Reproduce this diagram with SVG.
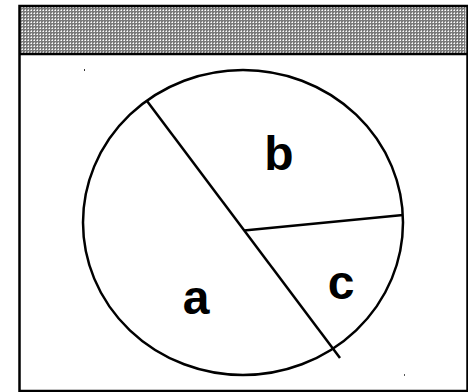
<svg xmlns="http://www.w3.org/2000/svg" width="468" height="392" viewBox="0 0 468 392">
  <defs>
    <pattern id="dither" x="0" y="0" width="3" height="3" patternUnits="userSpaceOnUse">
      <rect width="3" height="3" fill="#7a7a7a"/>
      <rect x="1" y="1" width="1" height="1" fill="#ffffff"/>
      <rect x="0" y="1" width="1" height="1" fill="#c8c8c8"/>
      <rect x="1" y="0" width="1" height="1" fill="#c8c8c8"/>
    </pattern>
    <style>
      .ln { stroke: #000; stroke-width: 2.5; fill: none; }
      .lbl { font-family: "Liberation Sans", Arial, sans-serif; font-weight: bold; font-size: 48px; fill: #000; text-anchor: middle; }
    </style>
  </defs>
  <rect x="0" y="0" width="468" height="392" fill="#fff"/>
  <g id="frame">
    <rect x="19.5" y="6" width="446" height="48" fill="url(#dither)"/>
    <rect x="19.5" y="6" width="448" height="385" class="ln" stroke-width="3"/>
    <line x1="19.5" y1="54" x2="467" y2="54" class="ln" stroke-width="3"/>
    <rect x="84" y="69" width="1" height="2" fill="#333"/>
    <rect x="404" y="374" width="1" height="2" fill="#555"/>
  </g>
  <g id="pie">
    <ellipse cx="243" cy="222.5" rx="160" ry="152.5" class="ln"/>
  </g>
  <g id="connectors">
    <line x1="147" y1="101" x2="340" y2="358" class="ln"/>
    <line x1="244" y1="230.5" x2="403" y2="215" class="ln"/>
  </g>
  <g id="label-a"><text x="196" y="314" class="lbl">a</text></g>
  <g id="label-b"><text x="279" y="170" class="lbl">b</text></g>
  <g id="label-c"><text x="341" y="299" class="lbl">c</text></g>
</svg>
